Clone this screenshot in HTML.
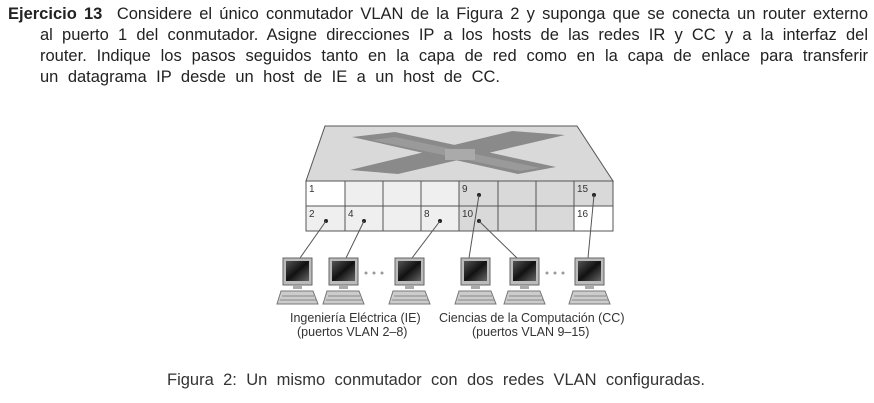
<!DOCTYPE html>
<html><head><meta charset="utf-8"><style>
body{margin:0;width:874px;height:403px;background:#fff;position:relative;overflow:hidden;font-family:"Liberation Sans",sans-serif;color:#222}
.l{position:absolute;font-size:16.5px;white-space:nowrap;text-align:justify;text-align-last:justify;line-height:20px}
.cap{position:absolute;font-size:15px;color:#333;white-space:nowrap}
</style></head><body>
<div class="l" style="left:8px;top:4px;width:860px"><b>Ejercicio 13</b>&nbsp; Considere el único conmutador VLAN de la Figura 2 y suponga que se conecta un router externo</div>
<div class="l" style="left:40px;top:25px;width:828px">al puerto 1 del conmutador. Asigne direcciones IP a los hosts de las redes IR y CC y a la interfaz del</div>
<div class="l" style="left:40px;top:46px;width:828px">router. Indique los pasos seguidos tanto en la capa de red como en la capa de enlace para transferir</div>
<div class="l" style="left:40px;top:67px;width:460px">un datagrama IP desde un host de IE a un host de CC.</div>

<svg width="874" height="403" style="position:absolute;left:0;top:0" xmlns="http://www.w3.org/2000/svg">
<polygon points="325,126 577,126 613,181 306,181" fill="#d9d9d9" stroke="#555" stroke-width="1"/>
<polygon points="352,137 395,132 556,167 518,174" fill="#8a8a8a"/>
<polygon points="512,131 565,135 398,174 350,170" fill="#8a8a8a"/>
<polygon points="372,140 395,137 540,168 520,171" fill="#a5a5a5" opacity="0.6"/>
<polygon points="445,149 475,149 475,160 445,160" fill="#aaa"/>
<g stroke="#555" stroke-width="1">
<rect x="306" y="181" width="39" height="25" fill="#fff"/>
<rect x="345" y="181" width="38" height="25" fill="#efefef"/>
<rect x="383" y="181" width="38" height="25" fill="#efefef"/>
<rect x="421" y="181" width="38" height="25" fill="#efefef"/>
<rect x="459" y="181" width="39" height="25" fill="#d9d9d9"/>
<rect x="498" y="181" width="38" height="25" fill="#d9d9d9"/>
<rect x="536" y="181" width="38" height="25" fill="#d9d9d9"/>
<rect x="574" y="181" width="39" height="25" fill="#d9d9d9"/>
<rect x="306" y="206" width="39" height="25" fill="#efefef"/>
<rect x="345" y="206" width="38" height="25" fill="#efefef"/>
<rect x="383" y="206" width="38" height="25" fill="#efefef"/>
<rect x="421" y="206" width="38" height="25" fill="#efefef"/>
<rect x="459" y="206" width="39" height="25" fill="#d9d9d9"/>
<rect x="498" y="206" width="38" height="25" fill="#d9d9d9"/>
<rect x="536" y="206" width="38" height="25" fill="#d9d9d9"/>
<rect x="574" y="206" width="39" height="25" fill="#fff"/>
</g>
<g font-family="Liberation Sans" font-size="10" fill="#333">
<text x="309" y="192">1</text><text x="462" y="192">9</text><text x="577" y="192">15</text>
<text x="309" y="217">2</text><text x="348" y="217">4</text><text x="424" y="217">8</text><text x="462" y="217">10</text><text x="577" y="217">16</text>
</g>
<g fill="#222"><circle cx="326" cy="221" r="2"/><circle cx="364" cy="221" r="2"/><circle cx="440" cy="221" r="2"/><circle cx="479" cy="195" r="2"/><circle cx="479" cy="221" r="2"/><circle cx="594" cy="195" r="2"/></g>
<g stroke="#555" stroke-width="1">
<line x1="326" y1="221" x2="300" y2="258"/><line x1="364" y1="221" x2="346" y2="258"/><line x1="440" y1="221" x2="412" y2="258"/>
<line x1="479" y1="195" x2="469" y2="258"/><line x1="479" y1="221" x2="517" y2="258"/><line x1="594" y1="195" x2="588" y2="258"/>
</g>
<defs><linearGradient id="g" x1="0" y1="0" x2="1" y2="1"><stop offset="0" stop-color="#555"/><stop offset="0.5" stop-color="#111"/><stop offset="1" stop-color="#666"/></linearGradient>
<g id="pc"><rect x="-14" y="0" width="29" height="27" fill="#bbb" stroke="#666"/><rect x="-11" y="3" width="23" height="20" fill="url(#g)"/><rect x="-4" y="27" width="9" height="4" fill="#aaa"/><polygon points="-16,33 16,33 21,46 -20,46" fill="#ccc" stroke="#777"/><line x1="-15" y1="38" x2="17" y2="38" stroke="#888"/><line x1="-17" y1="42" x2="19" y2="42" stroke="#888"/></g></defs>
<use href="#pc" x="297" y="258"/><use href="#pc" x="343" y="258"/><use href="#pc" x="409" y="258"/><use href="#pc" x="475" y="258"/><use href="#pc" x="524" y="258"/><use href="#pc" x="589" y="258"/>
<g fill="#999"><circle cx="366" cy="273" r="1.5"/><circle cx="374" cy="273" r="1.5"/><circle cx="382" cy="273" r="1.5"/><circle cx="547" cy="273" r="1.5"/><circle cx="555" cy="273" r="1.5"/><circle cx="563" cy="273" r="1.5"/></g>
</svg>
<div class="cap" style="left:290px;top:311px;font-size:12.5px">Ingeniería Eléctrica (IE)</div>
<div class="cap" style="left:297px;top:325px;font-size:12.5px">(puertos VLAN 2–8)</div>
<div class="cap" style="left:439px;top:311px;font-size:12.5px">Ciencias de la Computación (CC)</div>
<div class="cap" style="left:472px;top:325px;font-size:12.5px">(puertos VLAN 9–15)</div>
<div class="cap" style="left:167px;top:371px;font-size:16.5px;width:538px;text-align:justify;text-align-last:justify">Figura 2: Un mismo conmutador con dos redes VLAN configuradas.</div>
</body></html>
